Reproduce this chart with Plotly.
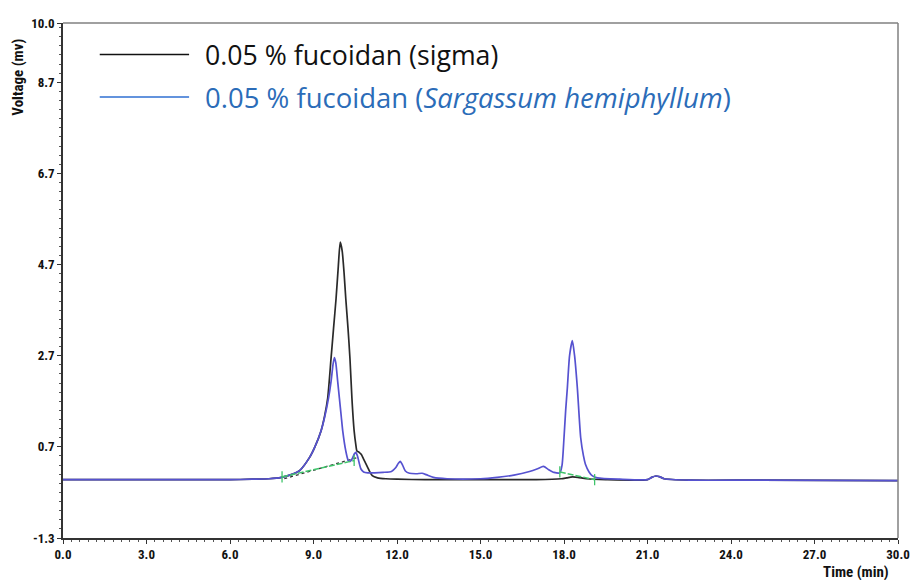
import plotly.graph_objects as go

# ---- data ----
time_sigma = [0.0, 3.0, 6.0, 6.8, 7.4, 7.85, 8.2, 8.5, 8.86, 9.05, 9.27, 9.4, 9.51, 9.63, 9.72, 9.81, 9.89, 9.96,
              10.03, 10.1, 10.16, 10.24, 10.31, 10.38, 10.46, 10.52, 10.56, 10.64, 10.72, 10.8, 10.88, 11.0, 11.11,
              11.3, 11.6, 12.0, 13.0, 15.0, 17.0, 17.9, 18.1, 18.3, 18.5, 18.8, 19.5, 21.0, 21.15, 21.3, 21.45,
              21.6, 22.5, 25.0, 30.0]
volt_sigma = [-0.02, -0.02, -0.02, -0.01, 0.0, 0.03, 0.09, 0.18, 0.47, 0.7, 1.05, 1.38, 1.77, 2.64, 3.3, 3.95, 4.65,
              5.19, 5.0, 4.5, 3.95, 3.3, 2.64, 1.77, 1.05, 0.75, 0.61, 0.58, 0.53, 0.43, 0.33, 0.18, 0.07, 0.02,
              0.0, -0.01, -0.02, -0.02, -0.02, 0.0, 0.02, 0.04, 0.03, 0.0, -0.02, -0.02, 0.03, 0.06, 0.04, 0.0,
              -0.03, -0.03, -0.04]

time_sarg = [0.0, 3.0, 6.0, 6.8, 7.4, 7.85, 8.2, 8.5, 8.86, 9.05, 9.27, 9.4, 9.54, 9.63, 9.7, 9.75, 9.8, 9.87, 9.93,
             10.0, 10.05, 10.16, 10.25, 10.32, 10.4, 10.47, 10.52, 10.58, 10.64, 10.7, 10.8, 10.95, 11.2, 11.5,
             11.8, 11.95, 12.05, 12.12, 12.2, 12.3, 12.45, 12.7, 12.9, 13.05, 13.31, 13.8, 15.0, 15.6, 16.2,
             16.76, 17.05, 17.26, 17.45, 17.64, 17.85, 17.93, 18.0, 18.06, 18.12, 18.2, 18.3, 18.38, 18.48, 18.6,
             18.7, 18.77, 18.9, 19.01, 19.2, 20.0, 21.0, 21.15, 21.3, 21.45, 21.6, 22.5, 25.0, 30.0]
volt_sarg = [-0.02, -0.02, -0.02, -0.01, 0.0, 0.03, 0.09, 0.18, 0.47, 0.7, 1.05, 1.35, 1.77, 2.13, 2.5, 2.66, 2.55,
             2.13, 1.77, 1.35, 1.05, 0.61, 0.4, 0.38, 0.45, 0.55, 0.58, 0.5, 0.35, 0.22, 0.15, 0.13, 0.13, 0.14,
             0.16, 0.24, 0.34, 0.38, 0.3, 0.17, 0.12, 0.11, 0.12, 0.09, 0.03, 0.0, 0.0, 0.03, 0.08, 0.16, 0.22,
             0.27, 0.2, 0.14, 0.13, 0.3, 0.9, 1.5, 1.99, 2.7, 3.03, 2.7, 1.99, 0.9, 0.5, 0.32, 0.15, 0.07, 0.02,
             -0.01, -0.02, 0.03, 0.06, 0.04, 0.0, -0.03, -0.03, -0.04]

# integration baselines
base_sigma_t = [7.95, 10.6]
base_sigma_v = [0.0, 0.47]
base_sarg1_t = [7.87, 10.46]
base_sarg1_v = [0.04, 0.40]
base_sarg2_t = [17.85, 19.1]
base_sarg2_v = [0.15, -0.02]

y_tickvals = [10.0, 8.7, 6.7, 4.7, 2.7, 0.7, -1.3]
x_tickvals = [0, 3, 6, 9, 12, 15, 18, 21, 24, 27, 30]

legend_sigma = "0.05 % fucoidan (sigma)"
legend_sarg = "0.05 % fucoidan (<i>Sargassum hemiphyllum</i>)"

AXFONT = "Liberation Sans Narrow, Roboto Condensed, Roboto, sans-serif"
BLUE_TRACE = "#5652d0"
BLACK_TRACE = "#2a2a2a"
GREEN = "#3fc46a"

fig = go.Figure()
fig.add_trace(go.Scatter(x=time_sigma, y=volt_sigma, mode="lines",
                         line=dict(color=BLACK_TRACE, width=1.7, shape="spline", smoothing=0.6),
                         showlegend=False))
fig.add_trace(go.Scatter(x=base_sigma_t, y=base_sigma_v, mode="lines",
                         line=dict(color="#333333", width=1.3, dash="dot"), showlegend=False))
fig.add_trace(go.Scatter(x=time_sarg, y=volt_sarg, mode="lines",
                         line=dict(color=BLUE_TRACE, width=1.7, shape="spline", smoothing=0.6),
                         showlegend=False))
for bt, bv in [(base_sarg1_t, base_sarg1_v), (base_sarg2_t, base_sarg2_v)]:
    fig.add_trace(go.Scatter(x=bt, y=bv, mode="lines+markers",
                             line=dict(color=GREEN, width=1.5, dash="6px,2px"),
                             marker=dict(symbol="line-ns-open", size=8, color=GREEN,
                                         line=dict(width=1.3, color=GREEN)),
                             showlegend=False))

fig.update_xaxes(range=[0, 30], tickmode="array", tickvals=x_tickvals,
                 ticktext=[f"{v:.1f}" for v in x_tickvals],
                 showgrid=False, zeroline=False, showline=True, linecolor="#333333", linewidth=1.5,
                 ticks="outside", ticklen=4, tickcolor="#333333",
                 minor=dict(dtick=0.3, tick0=0, ticks="outside", ticklen=2, tickcolor="#555555"),
                 tickfont=dict(family=AXFONT, size=13, color="#111111", weight="bold"))
fig.update_yaxes(range=[-1.3, 10.0], tickmode="array", tickvals=y_tickvals,
                 ticktext=[f"{v:.1f}" for v in y_tickvals],
                 showgrid=False, zeroline=False, showline=True, linecolor="#333333", linewidth=1.5,
                 ticks="outside", ticklen=4, tickcolor="#333333",
                 minor=dict(dtick=0.2, tick0=0.7, ticks="outside", ticklen=2, tickcolor="#555555"),
                 tickfont=dict(family=AXFONT, size=13, color="#111111", weight="bold"))

# top/right frame (grey)
fig.add_shape(type="line", xref="paper", yref="paper", x0=0, x1=1, y0=1, y1=1,
              line=dict(color="#808080", width=1.5))
fig.add_shape(type="line", xref="paper", yref="paper", x0=1, x1=1, y0=0, y1=1,
              line=dict(color="#808080", width=1.5))

# custom legend
fig.add_shape(type="line", xref="paper", yref="paper", x0=0.044, x1=0.151, y0=0.9387, y1=0.9387,
              line=dict(color="#111111", width=1.6))
fig.add_shape(type="line", xref="paper", yref="paper", x0=0.044, x1=0.151, y0=0.8563, y1=0.8563,
              line=dict(color="#2f6fd2", width=1.6))
fig.add_annotation(xref="paper", yref="paper", x=0.168, y=0.9387, text=legend_sigma, showarrow=False,
                   xanchor="left", yanchor="middle",
                   font=dict(family="Open Sans, sans-serif", size=26.7, color="#111111"))
fig.add_annotation(xref="paper", yref="paper", x=0.168, y=0.8563, text=legend_sarg, showarrow=False,
                   xanchor="left", yanchor="middle",
                   font=dict(family="Open Sans, sans-serif", size=27.5, color="#2b6cb8"))

# axis titles
fig.add_annotation(xref="paper", yref="paper", x=-0.0534, y=0.8946, text="Voltage (mv)", showarrow=False,
                   textangle=-90, xanchor="center", yanchor="middle",
                   font=dict(family=AXFONT, size=15, color="#111111", weight="bold"))
fig.add_annotation(xref="paper", yref="paper", x=0.95, y=-0.066, text="Time (min)", showarrow=False,
                   xanchor="center", yanchor="middle",
                   font=dict(family=AXFONT, size=15, color="#111111", weight="bold"))

# page has an 8px body margin: size the figure to the visible area
fig.update_layout(width=910, height=572, margin=dict(l=55, r=13, t=8, b=42),
                  plot_bgcolor="white", paper_bgcolor="white", showlegend=False)

fig.write_html("out.html")
